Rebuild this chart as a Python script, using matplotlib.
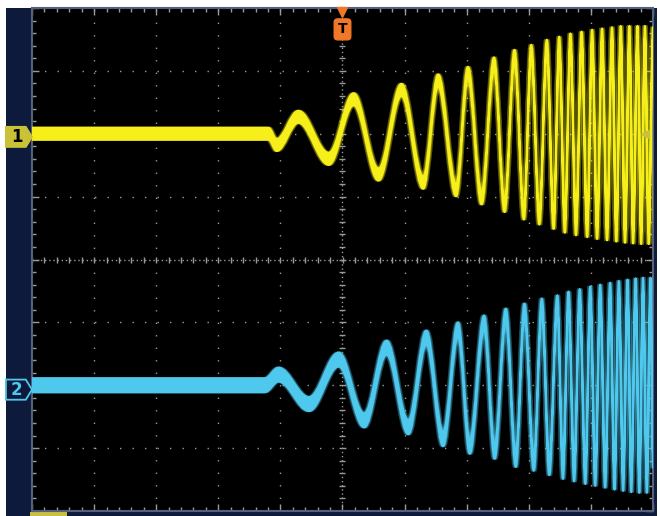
"""Scope capture: chirp on two channels, drawn as an oscilloscope screen."""

import numpy as np
import matplotlib.pyplot as plt
from matplotlib.patches import Polygon, Rectangle, PathPatch
from matplotlib.path import Path

# time in divisions, amplitude in divisions (relative to each channel's offset)
# one entry per turning point of the trace
ch1Time = [-5.0, -1.19, -1.06, -0.71, -0.22, 0.18, 0.58, 0.95, 1.30, 1.54, 1.83, 2.02, 2.24, 2.44,
           2.61, 2.77, 2.92, 3.04, 3.17, 3.29, 3.40, 3.49, 3.58, 3.67, 3.76, 3.85, 3.94, 4.02,
           4.10, 4.18, 4.26, 4.34, 4.41, 4.48, 4.55, 4.62, 4.68, 4.75, 4.81, 4.87, 4.93, 5.0]
ch1Amp = [0, 0, -0.18, 0.27, -0.40, 0.55, -0.65, 0.70, -0.78, 0.85, -0.90, 0.97, -1.03, 1.12,
          -1.15, 1.24, -1.27, 1.32, -1.35, 1.40, -1.42, 1.45, -1.48, 1.50, -1.52, 1.53, -1.55, 1.56,
          -1.58, 1.58, -1.60, 1.60, -1.62, 1.62, -1.64, 1.62, -1.65, 1.62, -1.66, 1.62, -1.66, 1.60]

ch2Time = [-5.0, -1.25, -1.03, -0.54, -0.06, 0.35, 0.71, 1.06, 1.35, 1.62, 1.86, 2.05, 2.28, 2.45,
           2.63, 2.79, 2.93, 3.08, 3.21, 3.33, 3.46, 3.55, 3.64, 3.73, 3.82, 3.91, 3.99, 4.07,
           4.15, 4.23, 4.31, 4.38, 4.45, 4.52, 4.59, 4.65, 4.72, 4.78, 4.84, 4.90, 4.96, 5.0]
ch2Amp = [0, 0, 0.17, -0.30, 0.41, -0.56, 0.60, -0.67, 0.76, -0.86, 0.89, -0.98, 1.00, -1.06,
          1.11, -1.19, 1.19, -1.25, 1.27, -1.32, 1.32, -1.38, 1.38, -1.42, 1.42, -1.46, 1.46, -1.49,
          1.49, -1.52, 1.52, -1.55, 1.55, -1.57, 1.57, -1.59, 1.59, -1.60, 1.60, -1.60, 1.60, -1.2]

ch1Offset = 2.0
ch2Offset = -2.0

yellow = "#f6ef1a"
cyan = "#4fc8ee"
navy = "#0d1a3c"
gridColor = "#9a9a9a"

W, H = 660, 516
pxPerDivX = 62.1
pxPerDivY = 62.9


def tracePath(t, y):
    # smooth half-waves between turning points, flat tangent at each turning point
    verts = [(t[0], y[0])]
    codes = [Path.MOVETO]
    for i in range(1, len(t)):
        dt = t[i] - t[i - 1]
        verts += [(t[i - 1] + 0.36 * dt, y[i - 1]), (t[i] - 0.36 * dt, y[i]), (t[i], y[i])]
        codes += [Path.CURVE4] * 3
    return np.array(verts), codes


def drawTrace(ax, t, amp, offset, color, bandPx):
    verts, codes = tracePath(np.asarray(t, float), np.asarray(amp, float) + offset)
    half = (bandPx - 2) / 2 / pxPerDivY
    # noise band = area between the trace shifted up and shifted down
    upper = verts + np.array([0, half])
    lower = (verts - np.array([0, half]))[::-1]
    bandVerts = np.vstack([upper, lower, upper[:1]])
    bandCodes = codes + [Path.LINETO] + codes[1:] + [Path.CLOSEPOLY]
    for vx, a in ((-1.8, 0.35), (1.8, 0.35), (0, 1.0)):
        shifted = bandVerts + np.array([vx / pxPerDivX, 0])
        ax.add_patch(PathPatch(Path(shifted, bandCodes), facecolor=color, edgecolor=color,
                               linewidth=1.5, joinstyle="round", alpha=a, zorder=3))


def badge(ax, y, label, face, edge, textColor):
    h = 0.16
    pts = [(-5.42, y - h), (-5.1, y - h), (-5.0, y), (-5.1, y + h), (-5.42, y + h)]
    ax.add_patch(Polygon(pts, closed=True, facecolor=face, edgecolor=edge, linewidth=1.3,
                         clip_on=False, zorder=6))
    ax.text(-5.25, y, label, color=textColor, fontsize=12, fontweight="bold",
            ha="center", va="center", clip_on=False, zorder=7)


fig = plt.figure(figsize=(W / 100, H / 100), dpi=100, facecolor="white")
bg = fig.add_axes([0, 0, 1, 1], zorder=-5)
bg.set_xlim(0, W)
bg.set_ylim(H, 0)
bg.axis("off")
bg.add_patch(Rectangle((6, 8), 651, H - 8, facecolor=navy, edgecolor="none"))
bg.add_patch(Rectangle((30, 512), 37, 4, facecolor="#c8c040", edgecolor="none"))

ax = fig.add_axes([32 / W, (H - 511) / H, 621 / W, 503 / H], zorder=1)
ax.set_facecolor("black")
ax.set_xlim(-5, 5)
ax.set_ylim(-4, 4)

# graticule
for gx in range(-4, 5):
    if gx != 0:
        ax.axvline(gx, color=gridColor, linewidth=1, linestyle=(0, (1, 8)), zorder=1)
for gy in range(-3, 4):
    if gy != 0:
        ax.axhline(gy, color=gridColor, linewidth=1, linestyle=(0, (1, 8)), zorder=1)
ax.axvline(0, color=gridColor, linewidth=1, linestyle=(0, (1, 2)), zorder=1)
ax.axhline(0, color=gridColor, linewidth=1, linestyle=(0, (1, 2)), zorder=1)
minorX = np.arange(-5, 5.01, 0.2)
minorY = np.arange(-4, 4.01, 0.2)
ax.plot(minorX, np.zeros_like(minorX), linestyle="none", marker="|", markersize=4,
        color=gridColor, markeredgewidth=1, zorder=1)
ax.plot(np.zeros_like(minorY), minorY, linestyle="none", marker="_", markersize=4,
        color=gridColor, markeredgewidth=1, zorder=1)

ax.set_xticks(range(-5, 6))
ax.set_yticks(range(-4, 5))
ax.set_xticks(minorX, minor=True)
ax.set_yticks(minorY, minor=True)
ax.tick_params(which="both", direction="in", top=True, right=True, labelbottom=False,
               labelleft=False, color=gridColor)
ax.tick_params(which="major", length=5, width=1)
ax.tick_params(which="minor", length=3, width=1)
for s in ax.spines.values():
    s.set_color("#55607a")
    s.set_linewidth(1.5)

drawTrace(ax, ch1Time, ch1Amp, ch1Offset, yellow, 14)
drawTrace(ax, ch2Time, ch2Amp, ch2Offset, cyan, 16)

badge(ax, ch1Offset - 0.05, "1", "#c9c136", "#c9c136", "black")
badge(ax, ch2Offset - 0.07, "2", navy, cyan, cyan)

# trigger marker
ax.plot([0], [3.93], marker="v", markersize=7, color="#f07828", linestyle="none", zorder=6, clip_on=False)
ax.text(0, 3.66, "T", color="black", fontsize=10, fontweight="bold", ha="center", va="center", zorder=7,
        bbox=dict(boxstyle="round,pad=0.25", facecolor="#f07828", edgecolor="#f07828"))
ax.plot([4.87], [ch1Offset], marker="<", markersize=6, color="#c8c040", linestyle="none", zorder=4)

plt.savefig("out.png", dpi=100, facecolor="white")
